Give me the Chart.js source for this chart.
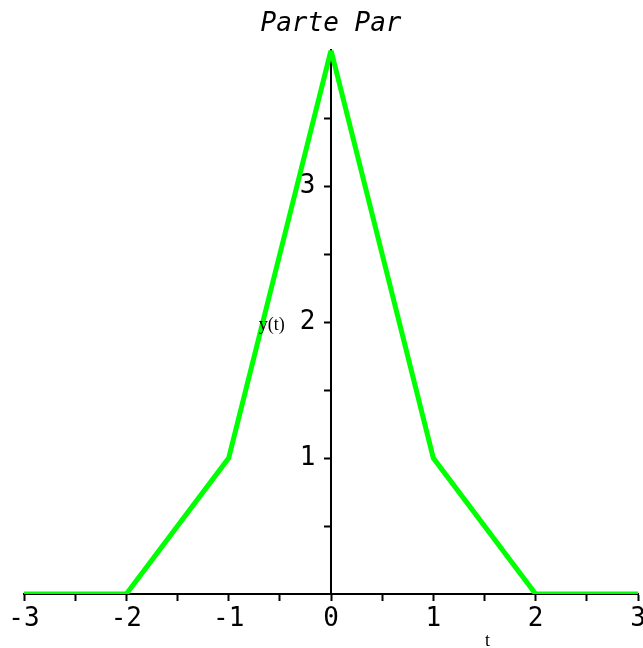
<!DOCTYPE html>
<html>
<head>
<meta charset="utf-8">
<script src="https://cdn.jsdelivr.net/npm/chart.js@4/dist/chart.umd.min.js"></script>
<style>
  html, body { margin: 0; padding: 0; background: #fff; }
  #wrap { width: 643px; height: 648px; }
</style>
</head>
<body>
<div id="wrap"><canvas id="plot"></canvas></div>
<script>
// y(t), parte par
const tValues = [-3, -2, -1, 0, 1, 2, 3];
const yValues = [0, 0, 1, 4, 1, 0, 0];
const xTickLabels = ['-3', '-2', '-1', '0', '1', '2', '3'];
const yTickLabels = ['1', '2', '3'];

const mono = "'DejaVu Sans Mono', monospace";

// axis names drawn next to the axes, Maple style
const axisNames = {
    id: 'axisNames',
    afterDraw(chart) {
        const { ctx, scales } = chart;
        ctx.save();
        ctx.fillStyle = '#000';
        ctx.font = "18px 'Liberation Serif', serif";
        ctx.textAlign = 'center';
        ctx.textBaseline = 'middle';
        ctx.fillText('y(t)', scales.x.getPixelForValue(-0.58), scales.y.getPixelForValue(1.98));
        ctx.fillText('t', scales.x.getPixelForValue(1.53), 641);
        ctx.restore();
    }
};

const noPad = scale => {
    scale.paddingLeft = 0;
    scale.paddingRight = 0;
    scale.paddingTop = 0;
    scale.paddingBottom = 0;
};

new Chart(document.getElementById('plot'), {
    type: 'line',
    data: {
        datasets: [{
            data: tValues.map((t, i) => ({ x: t, y: yValues[i] })),
            borderColor: '#00ff00',
            borderWidth: 5,
            pointRadius: 0,
            tension: 0,
            fill: false
        }]
    },
    options: {
        responsive: true,
        maintainAspectRatio: false,
        animation: false,
        layout: { padding: { left: 24, right: 5, top: 0, bottom: 54 } },
        plugins: {
            legend: { display: false },
            tooltip: { enabled: false },
            title: {
                display: true,
                text: 'Parte Par',
                color: '#000',
                font: { family: mono, size: 26, style: 'italic', weight: 'normal' },
                padding: { top: 9, bottom: 10 }
            }
        },
        scales: {
            x: {
                type: 'linear',
                position: { y: 0 },
                min: -3,
                max: 3,
                afterFit: noPad,
                ticks: {
                    stepSize: 0.5,
                    autoSkip: false,
                    maxRotation: 0,
                    padding: 4,
                    color: '#000',
                    font: { family: mono, size: 26 },
                    callback: v => {
                        const i = tValues.indexOf(v);
                        return i >= 0 ? xTickLabels[i] : '';
                    }
                },
                grid: {
                    drawOnChartArea: false,
                    drawTicks: true,
                    tickLength: 6,
                    tickWidth: 2,
                    tickColor: '#000'
                },
                border: { display: true, color: '#000', width: 2 }
            },
            y: {
                type: 'linear',
                position: { x: 0 },
                min: 0,
                max: 4,
                afterFit: noPad,
                ticks: {
                    stepSize: 0.5,
                    autoSkip: false,
                    color: '#000',
                    font: { family: mono, size: 26 },
                    // trailing en space keeps the label clear of the tick marks
                    callback: v => {
                        if (v === 0 || v === 4) return null;
                        const s = String(v);
                        return yTickLabels.includes(s) ? s + '\u2002' : '';
                    }
                },
                grid: {
                    drawOnChartArea: false,
                    drawTicks: true,
                    tickLength: 6,
                    tickWidth: 2,
                    tickColor: '#000'
                },
                border: { display: true, color: '#000', width: 2 }
            }
        }
    },
    plugins: [axisNames]
});
</script>
</body>
</html>
